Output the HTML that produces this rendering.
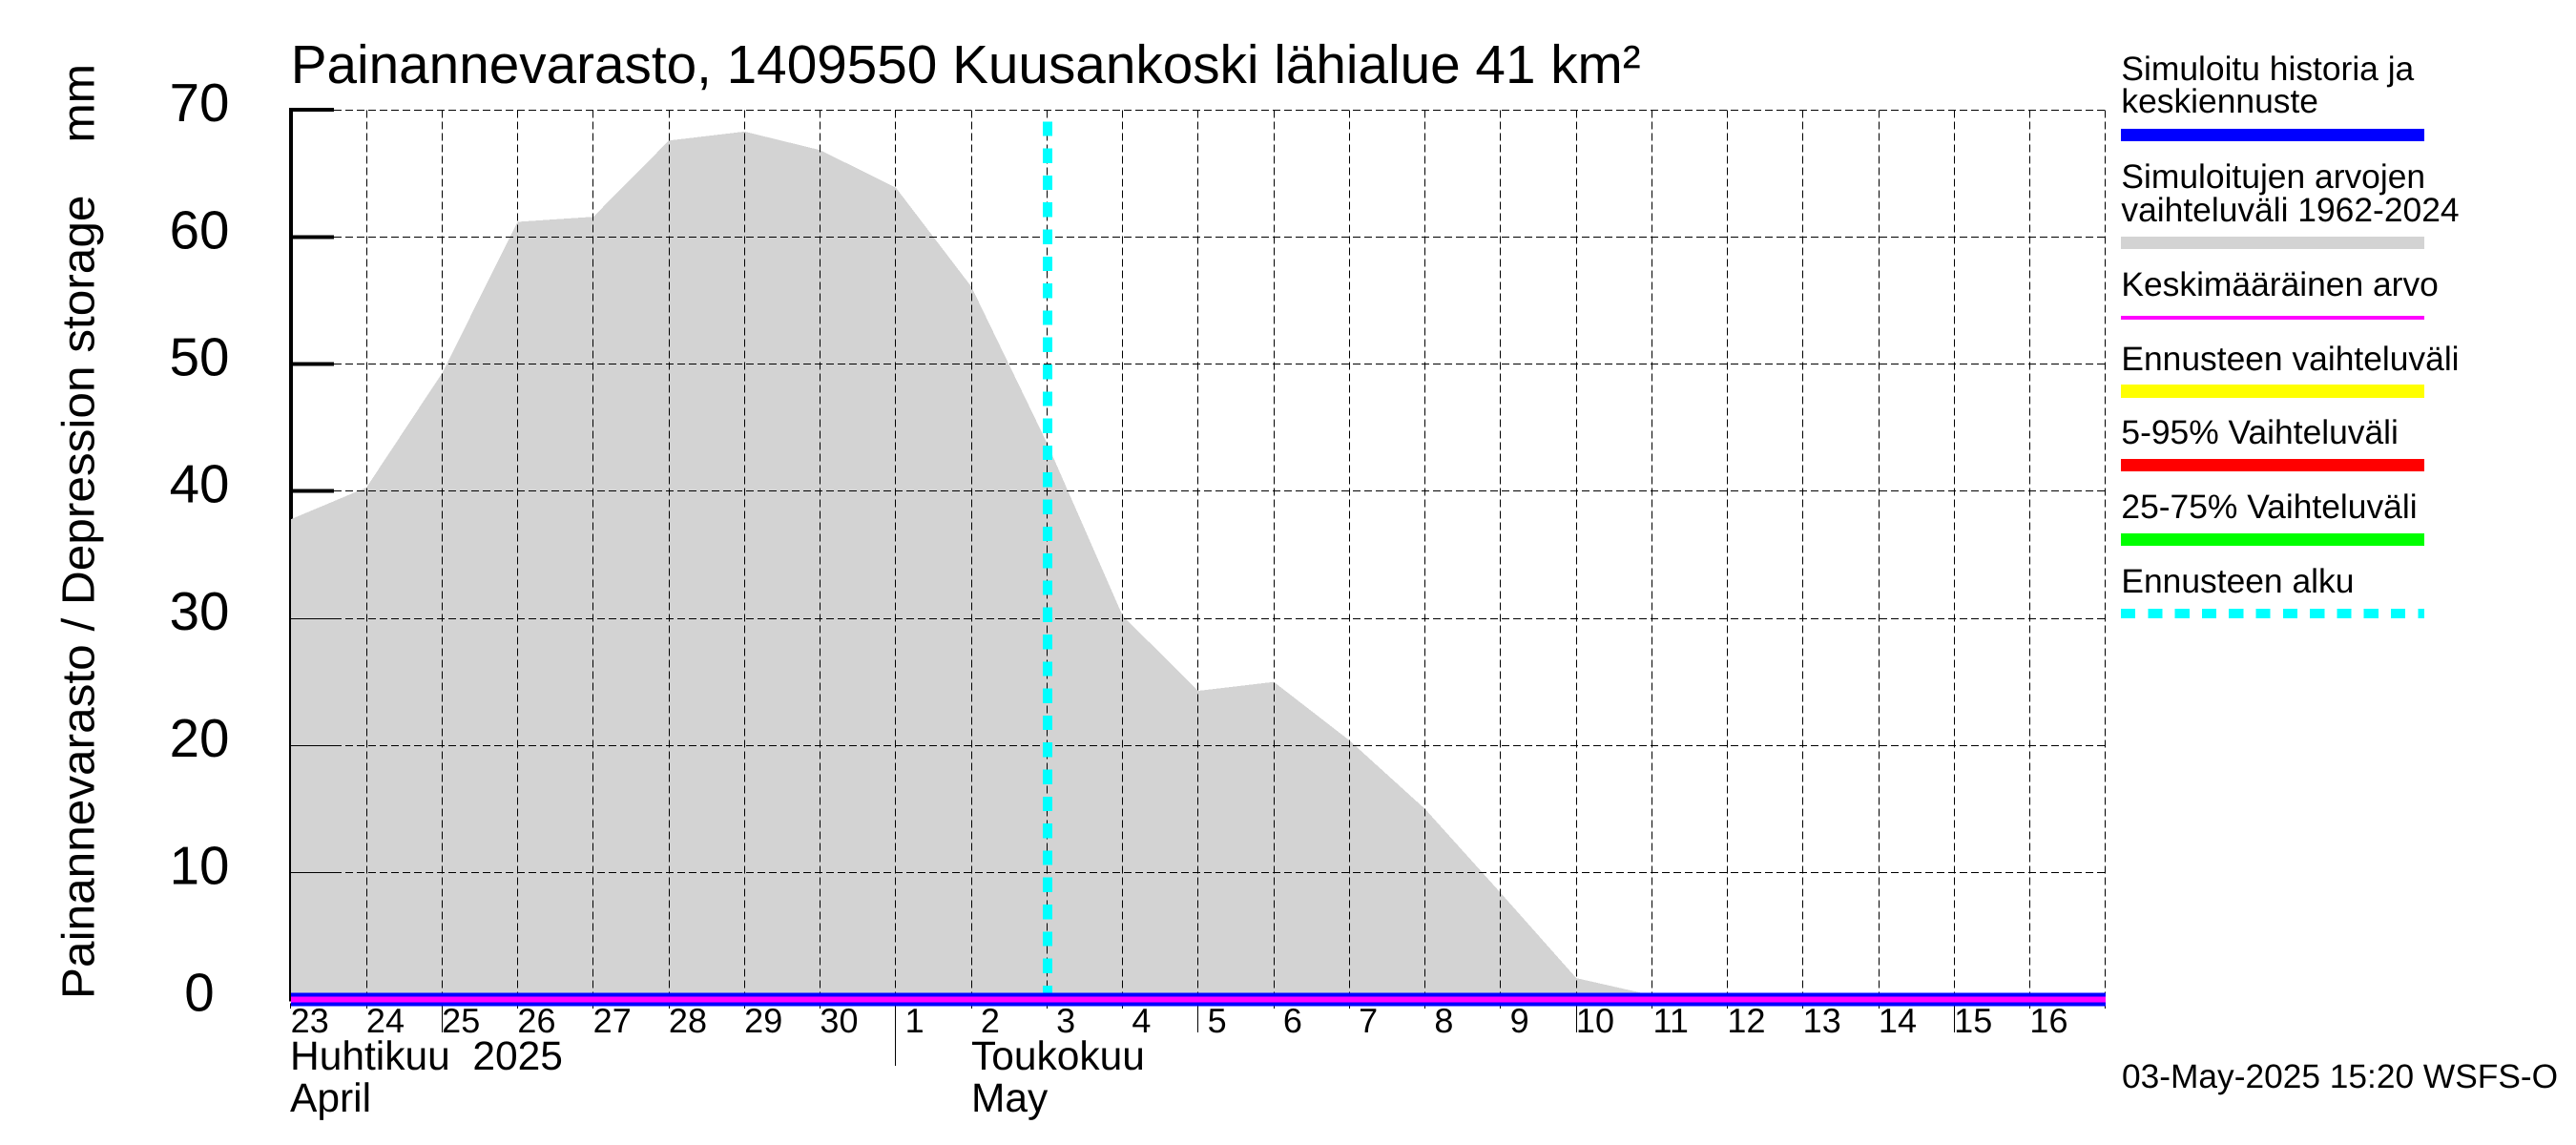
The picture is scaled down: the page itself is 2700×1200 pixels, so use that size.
<!DOCTYPE html>
<html lang="fi">
<head>
<meta charset="utf-8">
<title>Painannevarasto, 1409550 Kuusankoski lähialue 41 km²</title>
<style>
html,body{margin:0;padding:0;background:#fff;width:2700px;height:1200px;overflow:hidden}
svg{display:block}
text{font-family:"Liberation Sans",sans-serif;fill:#000;text-rendering:geometricPrecision}
.legend text{font-size:35.4px}
.month{font-size:42.5px}
</style>
</head>
<body>
<svg id="chart" xmlns="http://www.w3.org/2000/svg" width="2700" height="1200" viewBox="0 0 2700 1200">
  <rect x="0" y="0" width="2700" height="1200" fill="#fff"/>
  <g id="axis-under"></g>
  <g id="range-layer"></g>
  <g id="grid-layer"></g>
  <g id="forecast-layer"></g>
  <g id="series-layer"></g>
  <g id="label-layer"></g>

  <text x="304.7" y="87" font-size="56.7">Painannevarasto, 1409550 Kuusankoski lähialue 41 km²</text>
  <text transform="translate(98.7 1047) rotate(-90)" font-size="48" textLength="980" lengthAdjust="spacingAndGlyphs">Painannevarasto / Depression storage&#160;&#160;&#160;&#160;mm</text>

  <text class="month" x="304" y="1121">Huhtikuu&#160;&#160;2025</text>
  <text class="month" x="304" y="1165">April</text>
  <text class="month" x="1018" y="1121">Toukokuu</text>
  <text class="month" x="1018" y="1165">May</text>

  <text x="2224" y="1140" font-size="35.3">03-May-2025 15:20 WSFS-O</text>

  <g class="legend">
    <g>
      <text x="2223.4" y="84">Simuloitu historia ja</text>
      <text x="2223.4" y="118">keskiennuste</text>
      <rect x="2223" y="135" width="318" height="13" fill="#0000ff"/>
    </g>
    <g>
      <text x="2223.4" y="197">Simuloitujen arvojen</text>
      <text x="2223.4" y="232">vaihteluväli 1962-2024</text>
      <rect x="2223" y="248" width="318" height="13" fill="#d3d3d3"/>
    </g>
    <g>
      <text x="2223.4" y="310">Keskimääräinen arvo</text>
      <rect x="2223" y="331" width="318" height="4" fill="#ff00ff"/>
    </g>
    <g>
      <text x="2223.4" y="388">Ennusteen vaihteluväli</text>
      <rect x="2223" y="403" width="318" height="14" fill="#ffff00"/>
    </g>
    <g>
      <text x="2223.4" y="465">5-95% Vaihteluväli</text>
      <rect x="2223" y="481" width="318" height="13" fill="#ff0000"/>
    </g>
    <g>
      <text x="2223.4" y="543">25-75% Vaihteluväli</text>
      <rect x="2223" y="559" width="318" height="13" fill="#00ff00"/>
    </g>
    <g>
      <text x="2223.4" y="621">Ennusteen alku</text>
      <line x1="2223" y1="643" x2="2541" y2="643" stroke="#00ffff" stroke-width="10" stroke-dasharray="15.2 13.1" shape-rendering="crispEdges"/>
    </g>
  </g>
</svg>
<script>
// Chart data
const dayLabels = [23,24,25,26,27,28,29,30,1,2,3,4,5,6,7,8,9,10,11,12,13,14,15,16];
const yTickValues = [0,10,20,30,40,50,60,70];
const rangeUpper = [37.8,40.3,49.3,61.2,61.6,67.6,68.3,66.85,63.9,56.1,43.8,30.2,24.3,25.0,20.4,15.0,8.4,1.7,0.35,0,0,0,0,0,0];
const simulatedSeries = [0,0,0,0,0,0,0,0,0,0,0,0,0,0,0,0,0,0,0,0,0,0,0,0,0];
const meanSeries = [0,0,0,0,0,0,0,0,0,0,0,0,0,0,0,0,0,0,0,0,0,0,0,0,0];
const fiveDayTickIndex = [2,12,17,22];
const monthTickIndex = [8];
const forecastStartDay = 10;
const forecastTopValue = 69.1;

// Axis functions
const X0 = 304.9, DX = 79.25, Y0 = 1047.7, DY = 13.32;
function xScale(i){ return X0 + DX * i; }
function yScale(v){ return Y0 - DY * v; }
function snap(p){ return Math.floor(p) + 0.5; }

const NS = 'http://www.w3.org/2000/svg';
function mk(tag, parent, attrs){
  const el = document.createElementNS(NS, tag);
  for (const k in attrs) el.setAttribute(k, attrs[k]);
  parent.appendChild(el);
  return el;
}
const axisG = document.getElementById('axis-under');
const rangeG = document.getElementById('range-layer');
const gridG = document.getElementById('grid-layer');
const forecastG = document.getElementById('forecast-layer');
const seriesG = document.getElementById('series-layer');
const labelG = document.getElementById('label-layer');

// thick axis + ticks
const topY = yScale(70);
const axisLine = mk('rect', axisG, {x:303, y:topY-2, width:4, height:Y0-topY+2, fill:'#000', 'shape-rendering':'crispEdges'});


yTickValues.forEach(function(v){
  const t = mk('rect', axisG, {x:303, y:yScale(v)-2.2, width:47, height:4, fill:'#000', 'shape-rendering':'crispEdges'});
  
  
});

// grey range polygon
const rangePts = rangeUpper.map(function(v,i){ return xScale(i).toFixed(1) + ',' + yScale(v).toFixed(1); });
rangePts.push(xScale(rangeUpper.length-1).toFixed(1) + ',' + yScale(0).toFixed(1));
rangePts.push(xScale(0).toFixed(1) + ',' + yScale(0).toFixed(1));
const rangePoly = mk('polygon', rangeG, {points:rangePts.join(' '), fill:'#d3d3d3', 'shape-rendering':'crispEdges'});



// grid
yTickValues.forEach(function(v){
  const y = snap(yScale(v));
  const g = mk('line', gridG, {x1:350, y1:y, x2:xScale(24), y2:y, stroke:'#000', 'stroke-width':1, 'stroke-dasharray':'8 4', 'shape-rendering':'crispEdges'});
  
  
  const thin = mk('line', gridG, {x1:304, y1:y, x2:351, y2:y, stroke:'#000', 'stroke-width':1, 'shape-rendering':'crispEdges'});
  
  
});
for (let i = 0; i <= dayLabels.length; i++){
  const x = snap(xScale(i));
  const g = mk('line', gridG, {x1:x, y1:snap(yScale(70)), x2:x, y2:1057, stroke:'#000', 'stroke-width':1, 'stroke-dasharray':'8 4', 'shape-rendering':'crispEdges'});
  
  
}

// forecast start
const fx = xScale(forecastStartDay) + 0.7;
const fLine = mk('line', forecastG, {x1:fx, y1:yScale(forecastTopValue), x2:fx, y2:yScale(0), stroke:'#00ffff', 'stroke-width':10, 'stroke-dasharray':'15.3 13', 'shape-rendering':'crispEdges'});



// series
function seriesPoints(arr){
  return arr.map(function(v,i){ return xScale(i).toFixed(1) + ',' + yScale(v).toFixed(1); }).join(' ');
}
const simLine = mk('polyline', seriesG, {points:seriesPoints(simulatedSeries), fill:'none', stroke:'#0000ff', 'stroke-width':14, 'shape-rendering':'crispEdges'});


const meanLine = mk('polyline', seriesG, {points:seriesPoints(meanSeries), fill:'none', stroke:'#ff00ff', 'stroke-width':6, 'shape-rendering':'crispEdges'});



// x ticks below the band
fiveDayTickIndex.forEach(function(i){
  const x = snap(xScale(i));
  const t = mk('line', labelG, {x1:x, y1:1055, x2:x, y2:1082, stroke:'#000', 'stroke-width':1, 'shape-rendering':'crispEdges'});
  
  
});
monthTickIndex.forEach(function(i){
  const x = snap(xScale(i));
  const t = mk('line', labelG, {x1:x, y1:1055, x2:x, y2:1117, stroke:'#000', 'stroke-width':1, 'shape-rendering':'crispEdges'});
  
  
});

// labels
yTickValues.forEach(function(v){
  const t = mk('text', labelG, {x:209, y:yScale(v)+11.8, 'font-size':56.5, 'text-anchor':'middle'});
  t.textContent = String(v);
  
  
});
dayLabels.forEach(function(d,i){
  const t = mk('text', labelG, {x:xScale(i)+19.8, y:1082, 'font-size':36, 'text-anchor':'middle'});
  t.textContent = String(d);
  
  
});
</script>
</body>
</html>
